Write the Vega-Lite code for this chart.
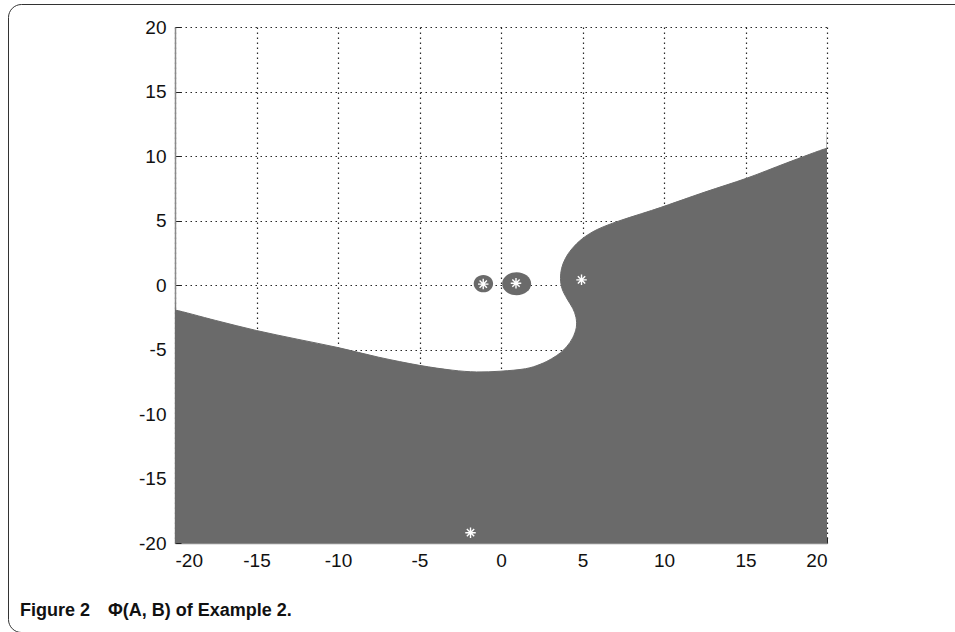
{
  "$schema": "https://vega.github.io/schema/vega-lite/v6.json",
  "width": 652,
  "height": 516,
  "autosize": {"type": "none"},
  "padding": {"left": 175, "top": 27, "right": 128, "bottom": 89},
  "background": "white",
  "config": {
    "view": {"stroke": null},
    "axis": {
      "labelFont": "Liberation Sans",
      "labelFontSize": 19,
      "labelColor": "#111111",
      "labelExpr": "toString(datum.value)",
      "domainColor": "#8a8a8a",
      "domainWidth": 1.5,
      "tickColor": "#222222",
      "tickSize": -6,
      "grid": true,
      "gridColor": "#111111",
      "gridDash": [1.5, 3.5],
      "gridWidth": 1.2,
      "gridOpacity": 0.9,
      "title": null
    }
  },
  "datasets": {
    "region": [
      {"i": 1, "x": -20, "y": -1.94},
      {"i": 2, "x": -17.5, "y": -2.75},
      {"i": 3, "x": -15, "y": -3.53},
      {"i": 4, "x": -12.5, "y": -4.2},
      {"i": 5, "x": -10, "y": -4.85},
      {"i": 6, "x": -7.5, "y": -5.6},
      {"i": 7, "x": -5, "y": -6.23},
      {"i": 8, "x": -3, "y": -6.6},
      {"i": 9, "x": -1.5, "y": -6.74},
      {"i": 10, "x": 0, "y": -6.68},
      {"i": 11, "x": 1.5, "y": -6.49},
      {"i": 12, "x": 2.4, "y": -6.15},
      {"i": 13, "x": 3.1, "y": -5.72},
      {"i": 14, "x": 3.65, "y": -5.25},
      {"i": 15, "x": 4.05, "y": -4.75},
      {"i": 16, "x": 4.4, "y": -4.1},
      {"i": 17, "x": 4.62, "y": -3.3},
      {"i": 18, "x": 4.6, "y": -2.5},
      {"i": 19, "x": 4.4, "y": -1.8},
      {"i": 20, "x": 4.06, "y": -1.09},
      {"i": 21, "x": 3.75, "y": -0.3},
      {"i": 22, "x": 3.65, "y": 0.5},
      {"i": 23, "x": 3.72, "y": 1.3},
      {"i": 24, "x": 3.95, "y": 2.05},
      {"i": 25, "x": 4.35, "y": 2.8},
      {"i": 26, "x": 5.0, "y": 3.6},
      {"i": 27, "x": 5.9, "y": 4.3},
      {"i": 28, "x": 7.2, "y": 4.95},
      {"i": 29, "x": 8.6, "y": 5.52},
      {"i": 30, "x": 10, "y": 6.1},
      {"i": 31, "x": 12.5, "y": 7.2},
      {"i": 32, "x": 15.1, "y": 8.29},
      {"i": 33, "x": 17.5, "y": 9.45},
      {"i": 34, "x": 20, "y": 10.6},
      {"i": 35, "x": 20, "y": 10.3},
      {"i": 36, "x": 20, "y": -19.7},
      {"i": 37, "x": 20, "y": -20},
      {"i": 38, "x": 19.7, "y": -20},
      {"i": 39, "x": -19.7, "y": -20},
      {"i": 40, "x": -20, "y": -20},
      {"i": 41, "x": -20, "y": -19.7},
      {"i": 42, "x": -20, "y": -2.2}
    ],
    "ovalA": [{"x": -1.08, "y": 0.1}],
    "ovalB": [{"x": 0.96, "y": 0.1}],
    "stars": [
      {"x": -1.09, "y": 0.07},
      {"x": 0.92, "y": 0.14},
      {"x": 4.94, "y": 0.4},
      {"x": -1.87, "y": -19.2}
    ]
  },
  "layer": [
    {
      "data": {"name": "region"},
      "mark": {"type": "line", "fill": "#6a6a6a", "stroke": "#6a6a6a", "strokeWidth": 1, "interpolate": "cardinal-closed", "tension": 0, "clip": true},
      "encoding": {
        "x": {
          "field": "x", "type": "quantitative",
          "scale": {"domain": [-20, 20], "nice": false, "zero": false},
          "axis": {"values": [-20, -15, -10, -5, 0, 5, 10, 15, 20], "labelPadding": 14}
        },
        "y": {
          "field": "y", "type": "quantitative",
          "scale": {"domain": [-20, 20], "nice": false, "zero": false},
          "axis": {"values": [-20, -15, -10, -5, 0, 5, 10, 15, 20], "labelPadding": 15}
        },
        "order": {"field": "i", "type": "quantitative"}
      }
    },
    {
      "data": {"name": "ovalA"},
      "mark": {"type": "point", "shape": "M -1 0 A 1 0.89 0 1 0 1 0 A 1 0.89 0 1 0 -1 0 Z", "size": 376, "filled": true, "opacity": 1, "strokeWidth": 0},
      "encoding": {
        "x": {"field": "x", "type": "quantitative"},
        "y": {"field": "y", "type": "quantitative"},
        "fill": {
          "datum": "a",
          "scale": {"domain": ["a", "b"], "range": ["#6a6a6a", "#6a6a6a"]},
          "legend": {
            "values": ["a", "b"],
            "orient": "none",
            "direction": "horizontal",
            "columns": 2,
            "legendX": -167,
            "legendY": -23,
            "padding": 12,
            "strokeColor": "#333333",
            "cornerRadius": 13,
            "symbolType": "square",
            "symbolSize": 330625,
            "symbolOpacity": 0,
            "symbolStrokeWidth": 0,
            "labelExpr": "''",
            "labelOffset": 0,
            "columnPadding": 10,
            "title": "Figure 2\u2003Φ(A, B) of Example 2.",
            "titleOrient": "bottom",
            "titleAnchor": "start",
            "titlePadding": 11,
            "titleFont": "Liberation Sans",
            "titleFontSize": 18,
            "titleFontWeight": "bold",
            "titleColor": "#111111",
            "titleLimit": 1000
          }
        }
      }
    },
    {
      "data": {"name": "ovalB"},
      "mark": {"type": "point", "shape": "M -1 0 A 1 0.79 0 1 0 1 0 A 1 0.79 0 1 0 -1 0 Z", "size": 841, "filled": true, "fill": "#6a6a6a", "opacity": 1, "strokeWidth": 0},
      "encoding": {
        "x": {"field": "x", "type": "quantitative"},
        "y": {"field": "y", "type": "quantitative"}
      }
    },
    {
      "data": {"name": "stars"},
      "mark": {"type": "point", "shape": "M -1 0 L 1 0 M 0 -1 L 0 1 M -0.7 -0.7 L 0.7 0.7 M -0.7 0.7 L 0.7 -0.7", "size": 110, "filled": false, "stroke": "#ffffff", "strokeWidth": 1.4, "opacity": 1},
      "encoding": {
        "x": {"field": "x", "type": "quantitative"},
        "y": {"field": "y", "type": "quantitative"}
      }
    }
  ]
}
